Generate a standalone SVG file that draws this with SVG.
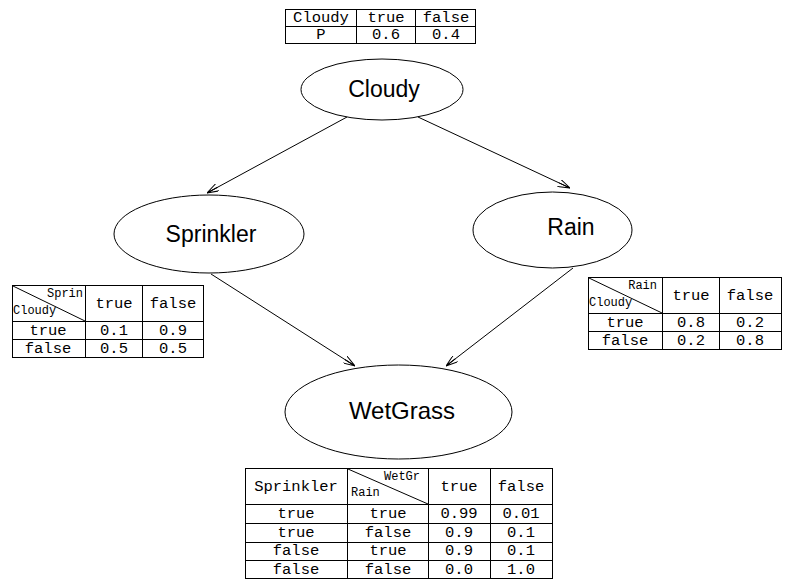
<svg xmlns="http://www.w3.org/2000/svg" width="790" height="586" viewBox="0 0 790 586">
<style>
.node ellipse{fill:#fff;stroke:#000;stroke-width:1}
.node text{font-family:"Liberation Sans",Arial,sans-serif;font-size:23px;fill:#000;text-anchor:middle}
.tbl rect,.tbl line{fill:none;stroke:#000;stroke-width:1;shape-rendering:crispEdges}
.tbl text{font-family:"Liberation Mono","Courier New",monospace;font-size:15.5px;fill:#000;text-anchor:middle}
.tbl text.s{font-size:12px}
.tbl text.r{text-anchor:end}
.tbl text.l{text-anchor:start}
.edges line{stroke:#000;stroke-width:1;marker-end:url(#arr)}
</style>
<defs>
<marker id="arr" viewBox="0 0 12 8" refX="12" refY="4" markerWidth="12" markerHeight="8" markerUnits="userSpaceOnUse" orient="auto">
<path d="M0,0 L12,4 L0,8 M0,4 L12,4" fill="none" stroke="#000" stroke-width="1"/>
</marker>
</defs>
<rect width="790" height="586" fill="#fff"/>

<g id="edges" class="edges">
<line x1="347" y1="117" x2="207" y2="193"/>
<line x1="418" y1="117" x2="570" y2="188"/>
<line x1="211" y1="274" x2="355" y2="366"/>
<line x1="573" y1="268" x2="446" y2="366"/>
</g>

<g id="cloudy" class="node">
<ellipse cx="382" cy="89.5" rx="81" ry="30.5"/>
<text x="384" y="97">Cloudy</text>
</g>
<g id="sprinkler" class="node">
<ellipse cx="209" cy="234" rx="95" ry="39"/>
<text x="211" y="242">Sprinkler</text>
</g>
<g id="rain" class="node">
<ellipse cx="552.5" cy="230" rx="79.5" ry="38"/>
<text x="571" y="235">Rain</text>
</g>
<g id="wetgrass" class="node">
<ellipse cx="398.5" cy="412" rx="113.5" ry="47"/>
<text x="402" y="419" style="font-size:24px">WetGrass</text>
</g>

<g id="cpt-cloudy" class="tbl">
<rect x="285.5" y="9.5" width="190" height="34"/>
<line x1="285" y1="26.5" x2="476" y2="26.5"/>
<line x1="356.5" y1="9" x2="356.5" y2="44"/>
<line x1="415.5" y1="9" x2="415.5" y2="44"/>
<text x="321" y="22">Cloudy</text>
<text x="386" y="22">true</text>
<text x="446" y="22">false</text>
<text x="321" y="39">P</text>
<text x="386" y="39">0.6</text>
<text x="446" y="39">0.4</text>
</g>

<g id="cpt-sprinkler" class="tbl">
<rect x="12.5" y="285.5" width="191" height="72"/>
<line x1="12" y1="321.5" x2="204" y2="321.5"/>
<line x1="12" y1="339.5" x2="204" y2="339.5"/>
<line x1="85.5" y1="285" x2="85.5" y2="358"/>
<line x1="142.5" y1="285" x2="142.5" y2="358"/>
<line x1="13" y1="286" x2="85" y2="321" style="shape-rendering:auto"/>
<text class="s r" x="83" y="297">Sprin</text>
<text class="s l" x="13" y="314">Cloudy</text>
<text x="114" y="308">true</text>
<text x="173" y="308">false</text>
<text x="48" y="335">true</text>
<text x="114" y="335">0.1</text>
<text x="173" y="335">0.9</text>
<text x="48" y="353">false</text>
<text x="114" y="353">0.5</text>
<text x="173" y="353">0.5</text>
</g>

<g id="cpt-rain" class="tbl">
<rect x="588.5" y="277.5" width="193" height="72"/>
<line x1="588" y1="313.5" x2="782" y2="313.5"/>
<line x1="588" y1="331.5" x2="782" y2="331.5"/>
<line x1="662.5" y1="277" x2="662.5" y2="350"/>
<line x1="719.5" y1="277" x2="719.5" y2="350"/>
<line x1="589" y1="278" x2="662" y2="313" style="shape-rendering:auto"/>
<text class="s r" x="657" y="289">Rain</text>
<text class="s l" x="589" y="306">Cloudy</text>
<text x="691" y="300">true</text>
<text x="750" y="300">false</text>
<text x="625" y="327">true</text>
<text x="691" y="327">0.8</text>
<text x="750" y="327">0.2</text>
<text x="625" y="345">false</text>
<text x="691" y="345">0.2</text>
<text x="750" y="345">0.8</text>
</g>

<g id="cpt-wetgrass" class="tbl">
<rect x="245.5" y="468.5" width="307" height="110"/>
<line x1="245" y1="504.5" x2="553" y2="504.5"/>
<line x1="245" y1="523.5" x2="553" y2="523.5"/>
<line x1="245" y1="542.5" x2="553" y2="542.5"/>
<line x1="245" y1="560.5" x2="553" y2="560.5"/>
<line x1="347.5" y1="468" x2="347.5" y2="579"/>
<line x1="428.5" y1="468" x2="428.5" y2="579"/>
<line x1="490.5" y1="468" x2="490.5" y2="579"/>
<line x1="348" y1="469" x2="428" y2="504" style="shape-rendering:auto"/>
<text x="296" y="491">Sprinkler</text>
<text class="s r" x="420" y="480">WetGr</text>
<text class="s l" x="351" y="496">Rain</text>
<text x="459" y="491">true</text>
<text x="521" y="491">false</text>
<text x="296" y="518">true</text>
<text x="388" y="518">true</text>
<text x="459" y="518">0.99</text>
<text x="521" y="518">0.01</text>
<text x="296" y="537">true</text>
<text x="388" y="537">false</text>
<text x="459" y="537">0.9</text>
<text x="521" y="537">0.1</text>
<text x="296" y="555">false</text>
<text x="388" y="555">true</text>
<text x="459" y="555">0.9</text>
<text x="521" y="555">0.1</text>
<text x="296" y="574">false</text>
<text x="388" y="574">false</text>
<text x="459" y="574">0.0</text>
<text x="521" y="574">1.0</text>
</g>
</svg>
